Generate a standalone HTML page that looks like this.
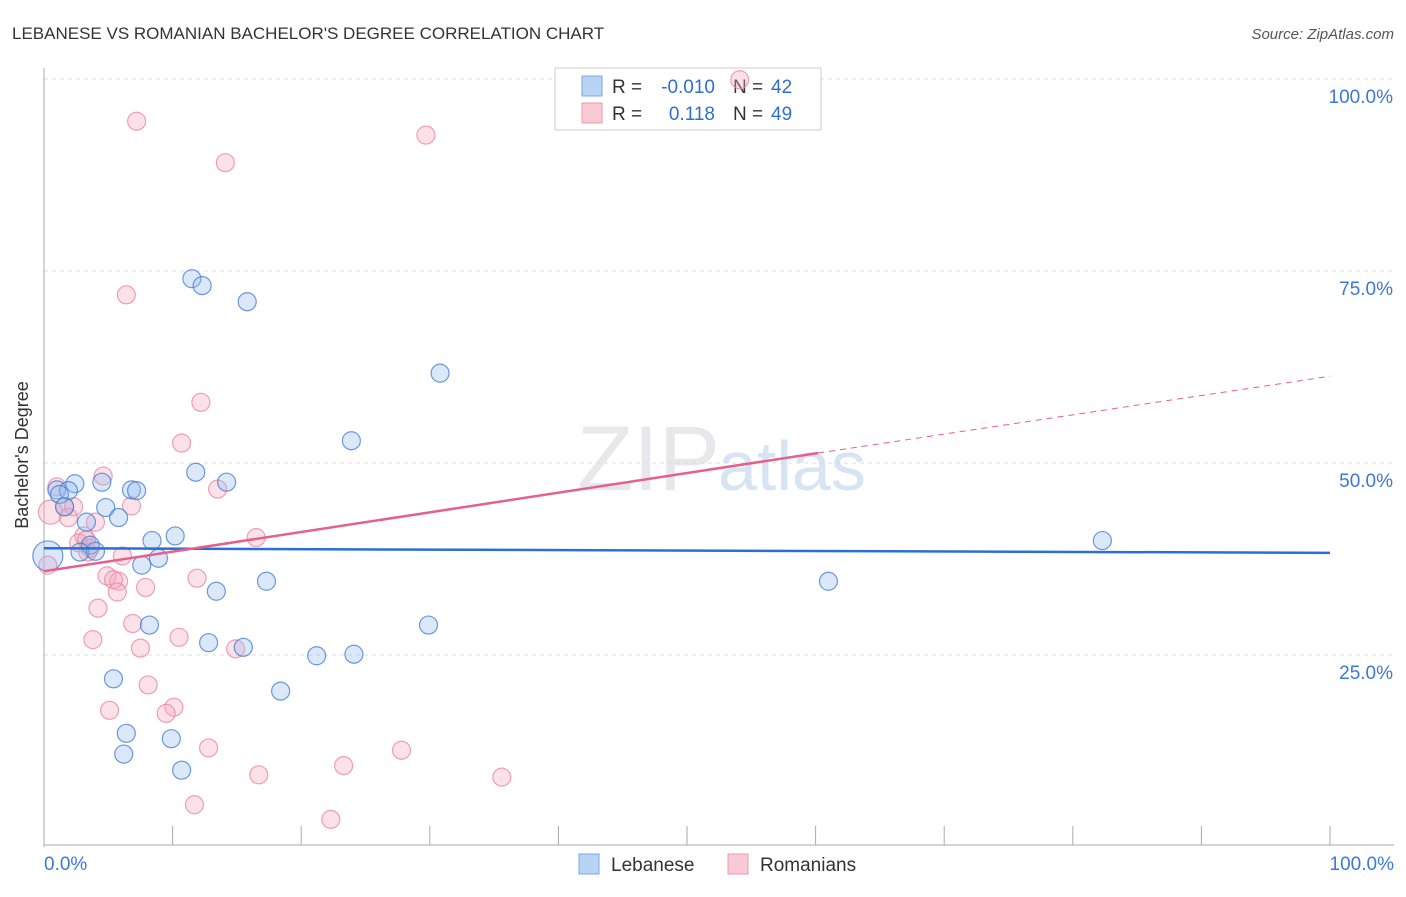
<!DOCTYPE html>
<html><head><meta charset="utf-8"><style>
body{margin:0;background:#fff;font-family:"Liberation Sans",sans-serif}
svg text{font-family:"Liberation Sans",sans-serif}
</style></head><body>
<svg id="c" width="1406" height="892">
<text x="12" y="39" font-size="17" fill="#333">LEBANESE VS ROMANIAN BACHELOR'S DEGREE CORRELATION CHART</text>
<text x="1394" y="39" font-size="15" fill="#555" font-style="italic" text-anchor="end">Source: ZipAtlas.com</text>
<text x="720" y="490" font-size="92" fill="#e8e8ec" font-family="Liberation Serif" text-anchor="end">ZIP</text>
<text x="718" y="490" font-size="70" fill="#d6e4f4">atlas</text>
<g id="grid"></g>
<g>
<rect x="555" y="68" width="266" height="62" fill="#fff" stroke="#ccc"/>
<rect x="582" y="76" width="20" height="20" fill="#b8d4f4" stroke="#7aa9e0"/>
<rect x="582" y="103" width="20" height="20" fill="#f9c9d6" stroke="#eb9ab2"/>
<text x="612" y="93" font-size="19" fill="#333">R =</text>
<text x="715" y="93" font-size="19" fill="#2f6fd0" text-anchor="end">-0.010</text>
<text x="733" y="93" font-size="19" fill="#333">N =</text>
<text x="771" y="93" font-size="19" fill="#2f6fd0">42</text>
<text x="612" y="120" font-size="19" fill="#333">R =</text>
<text x="715" y="120" font-size="19" fill="#2f6fd0" text-anchor="end">0.118</text>
<text x="733" y="120" font-size="19" fill="#333">N =</text>
<text x="771" y="120" font-size="19" fill="#2f6fd0">49</text>
</g>
<g id="marks"></g>
<text x="28" y="455" font-size="18" fill="#333" text-anchor="middle" transform="rotate(-90 28 455)">Bachelor's Degree</text>
<g>
<rect x="579" y="854" width="20" height="20" fill="#b8d4f4" stroke="#7aa9e0"/>
<text x="611" y="871" font-size="19" fill="#333">Lebanese</text>
<rect x="728" y="854" width="20" height="20" fill="#f9c9d6" stroke="#eb9ab2"/>
<text x="760" y="871" font-size="19" fill="#333">Romanians</text>
</g>
</svg>
<script>
const yTicks=[25,50,75,100];
const blueX=[11.5,12.3,15.8,30.8,23.9,11.8,14.2,2.4,4.5,6.8,7.2,1.0,1.9,4.8,5.8,3.3,8.4,10.2,3.6,2.8,4.0,7.6,8.9,0.3,17.3,13.4,61.0,82.3,8.2,29.9,12.8,15.5,21.2,24.1,5.4,18.4,6.4,9.9,6.2,10.7,1.2,1.6];
const blueY=[74.0,73.1,71.0,61.7,52.9,48.8,47.5,47.3,47.5,46.5,46.4,46.5,46.4,44.2,42.9,42.3,39.9,40.5,39.3,38.4,38.5,36.7,37.6,37.9,34.6,33.3,34.6,39.9,28.9,28.9,26.6,26.0,24.9,25.1,21.9,20.3,14.8,14.1,12.1,10.0,45.9,44.3];
const pinkX=[7.2,14.1,29.7,6.4,12.2,10.7,4.6,13.5,6.8,1.0,1.6,2.3,0.5,1.9,4.0,3.1,16.5,2.7,3.4,6.1,4.9,5.8,5.4,5.7,7.9,11.9,4.2,6.9,10.5,3.8,7.5,14.9,8.1,5.1,10.1,9.5,12.8,27.8,16.7,23.3,35.6,11.7,22.3,0.3,3.3,3.6,54.1];
const pinkY=[94.5,89.1,92.7,71.9,57.9,52.6,48.3,46.6,44.4,46.9,44.3,44.3,43.6,42.9,42.3,40.5,40.3,39.6,38.4,37.9,35.3,34.6,34.8,33.2,33.8,35.0,31.1,29.1,27.3,27.0,25.9,25.8,21.1,17.8,18.2,17.4,12.9,12.6,9.4,10.6,9.1,5.5,3.6,36.7,40.0,38.9,99.9];
const pinkR=[9,9,9,9,9,9,9,9,9,9,9,9,12,9,9,9,9,9,9,9,9,9,9,9,9,9,9,9,9,9,9,9,9,9,9,9,9,9,9,9,9,9,9,9,9,9,9];
const blueLine=[38.9,38.3];
const pinkLine=[35.9,51.3,61.3];
const sx=v=>44+v*12.86, sy=v=>847-v*7.68;
const NS="http://www.w3.org/2000/svg";
const g=document.getElementById('grid'), m=document.getElementById('marks');
function el(t,a,p){const e=document.createElementNS(NS,t);for(const k in a)e.setAttribute(k,a[k]);p.appendChild(e);return e;}
yTicks.forEach(t=>{
 const l=el('line',{x1:44,x2:1394,y1:sy(t),y2:sy(t),stroke:'#ddd','stroke-dasharray':'4,4'},g);
 
 
 const tx=el('text',{x:1393,y:sy(t)+24,'font-size':19,fill:'#3b78d8','text-anchor':'end'},g);
 tx.textContent=t.toFixed(1)+'%';
 
 
});
el('line',{x1:44,x2:44,y1:68,y2:847,stroke:'#aaa'},g);
el('line',{x1:44,x2:1394,y1:845,y2:845,stroke:'#aaa'},g);
for(let i=0;i<=10;i++){el('line',{x1:sx(i*10),x2:sx(i*10),y1:826,y2:845,stroke:'#aaa'},g);}
const x0=el('text',{x:44,y:870,'font-size':19,fill:'#3b78d8'},g);x0.textContent='0.0%';


const x1=el('text',{x:1394,y:870,'font-size':19,fill:'#3b78d8','text-anchor':'end'},g);x1.textContent='100.0%';


pinkX.forEach((x,i)=>{
 const c=el('circle',{cx:sx(x),cy:sy(pinkY[i]),r:pinkR[i],fill:'rgba(246,170,192,0.35)',stroke:'rgba(232,130,160,0.75)','stroke-width':1.2},m);
 
 
});
blueX.forEach((x,i)=>{
 const r=(i==23)?15:9;
 const c=el('circle',{cx:sx(x),cy:sy(blueY[i]),r:r,fill:'rgba(150,190,240,0.35)',stroke:'rgba(60,120,210,0.75)','stroke-width':1.2},m);
 
 
});
const bl=el('line',{x1:sx(0),y1:sy(blueLine[0]),x2:sx(100),y2:sy(blueLine[1]),stroke:'#2a6fd6','stroke-width':2.5},m);


const pl=el('line',{x1:sx(0),y1:sy(pinkLine[0]),x2:sx(60.2),y2:sy(pinkLine[1]),stroke:'#e5608c','stroke-width':2.5},m);


const pd=el('line',{x1:sx(60.2),y1:sy(pinkLine[1]),x2:sx(100),y2:sy(pinkLine[2]),stroke:'#e5608c','stroke-width':1,'stroke-dasharray':'6,5'},m);


</script>
</body></html>
